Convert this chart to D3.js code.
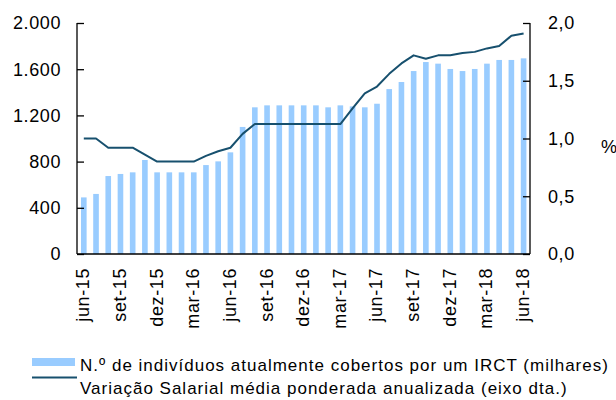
<!DOCTYPE html>
<html>
<head>
<meta charset="utf-8">
<script src="https://cdn.jsdelivr.net/npm/d3@7"></script>
<style>
  html, body { margin: 0; padding: 0; background: #fff; }
  svg text { font-family: "Liberation Sans", Arial, sans-serif; fill: #000; }
</style>
</head>
<body>
<svg id="chart" width="616" height="400"></svg>
<script>
const months = ["jun-15","jul-15","ago-15","set-15","out-15","nov-15","dez-15","jan-16","fev-16","mar-16","abr-16","mai-16",
  "jun-16","jul-16","ago-16","set-16","out-16","nov-16","dez-16","jan-17","fev-17","mar-17","abr-17","mai-17",
  "jun-17","jul-17","ago-17","set-17","out-17","nov-17","dez-17","jan-18","fev-18","mar-18","abr-18","mai-18","jun-18"];
const covered = [490,520,675,693,707,814,707,707,707,707,770,802,
  880,1100,1270,1287,1287,1287,1287,1287,1270,1287,1278,1270,
  1301,1428,1489,1584,1662,1648,1602,1584,1602,1648,1680,1680,1694];
const wageVar = [1.00,1.00,0.92,0.92,0.92,0.86,0.80,0.80,0.80,0.80,0.85,0.89,
  0.92,1.04,1.125,1.125,1.125,1.125,1.125,1.125,1.125,1.125,1.26,1.39,
  1.45,1.56,1.65,1.72,1.69,1.72,1.72,1.74,1.75,1.78,1.80,1.89,1.91];
const tickLabels = ["jun-15","set-15","dez-15","mar-16","jun-16","set-16","dez-16","mar-17","jun-17","set-17","dez-17","mar-18","jun-18"];
const leftTicks = [0,400,800,1200,1600,2000];
const rightTicks = [0,0.5,1.0,1.5,2.0];
const legendLabels = ["N.º de indivíduos atualmente cobertos por um IRCT (milhares)",
  "Variação Salarial média ponderada anualizada (eixo dta.)"];

const svg = d3.select("#chart");
const pLeft = 77, pRight = 530, pTop = 23, pBottom = 254;
const barColor = "#99CCFF", lineColor = "#17506e";
const fs = 18, ls = "0.6px";

const x = d3.scaleBand().domain(months).range([pLeft + 0.7, pRight - 0.3]).paddingInner(0.54).paddingOuter(0.27);
const yL = d3.scaleLinear().domain([0, 2000]).range([pBottom, pTop]);
const yR = d3.scaleLinear().domain([0, 2]).range([pBottom, pTop]);

// bars
svg.append("g").selectAll("rect").data(months).join("rect")
  .attr("x", d => x(d))
  .attr("y", (d, i) => yL(covered[i]))
  .attr("width", x.bandwidth())
  .attr("height", (d, i) => yL(0) - yL(covered[i]))
  .attr("fill", barColor);

// line
const line = d3.line().x((d, i) => x(months[i]) + x.bandwidth() / 2).y(d => yR(d));
svg.append("path").datum(wageVar).attr("d", line)
  .attr("fill", "none").attr("stroke", lineColor).attr("stroke-width", 2).attr("stroke-linejoin", "round");

// axes
const fmtL = d => d3.format(",")(d).replace(/,/g, ".");
const fmtR = d => d3.format(".1f")(d).replace(".", ",");

const gL = svg.append("g").attr("transform", `translate(${pLeft},0)`)
  .call(d3.axisRight(yL).tickValues(leftTicks).tickSize(7).tickFormat(""));
const gR = svg.append("g").attr("transform", `translate(${pRight},0)`)
  .call(d3.axisLeft(yR).tickValues(rightTicks).tickSize(7).tickFormat(""));
[gL, gR].forEach(g => {
  g.select(".domain").attr("stroke", "#000").attr("stroke-width", 1.3).attr("d", `M0,${pTop}V${pBottom}`);
  g.selectAll(".tick line").attr("stroke", "#000").attr("stroke-width", 1.3);
});
svg.append("line").attr("x1", pLeft).attr("x2", pRight).attr("y1", pBottom).attr("y2", pBottom)
  .attr("stroke", "#000").attr("stroke-width", 1.3);

// tick labels
svg.append("g").selectAll("text").data(leftTicks).join("text")
  .attr("x", 61).attr("y", d => yL(d)).attr("dy", "0.36em")
  .attr("text-anchor", "end").style("font-size", fs + "px").style("letter-spacing", ls)
  .text(fmtL);
svg.append("g").selectAll("text").data(rightTicks).join("text")
  .attr("x", 548).attr("y", d => yR(d)).attr("dy", "0.36em")
  .attr("text-anchor", "start").style("font-size", fs + "px").style("letter-spacing", ls)
  .text(fmtR);
svg.append("text").attr("x", 601).attr("y", yR(0.93)).attr("dy", "0.36em")
  .style("font-size", fs + "px").text("%");

svg.append("g").selectAll("text").data(tickLabels).join("text")
  .attr("transform", d => `translate(${x(d) + x.bandwidth() / 2 + 5.5},268) rotate(-90)`)
  .attr("text-anchor", "end").style("font-size", fs + "px").style("letter-spacing", ls)
  .text(d => d);

// legend
const lg = svg.append("g");
lg.append("rect").attr("x", 32).attr("y", 358).attr("width", 43).attr("height", 8).attr("fill", barColor);
lg.append("line").attr("x1", 32).attr("x2", 77).attr("y1", 377.5).attr("y2", 377.5)
  .attr("stroke", lineColor).attr("stroke-width", 2);
lg.append("text").attr("x", 80).attr("y", 371).style("font-size", "17px").style("letter-spacing", "1px").text(legendLabels[0]);
lg.append("text").attr("x", 80).attr("y", 394).style("font-size", "17px").style("letter-spacing", "1px").text(legendLabels[1]);
</script>
</body>
</html>
